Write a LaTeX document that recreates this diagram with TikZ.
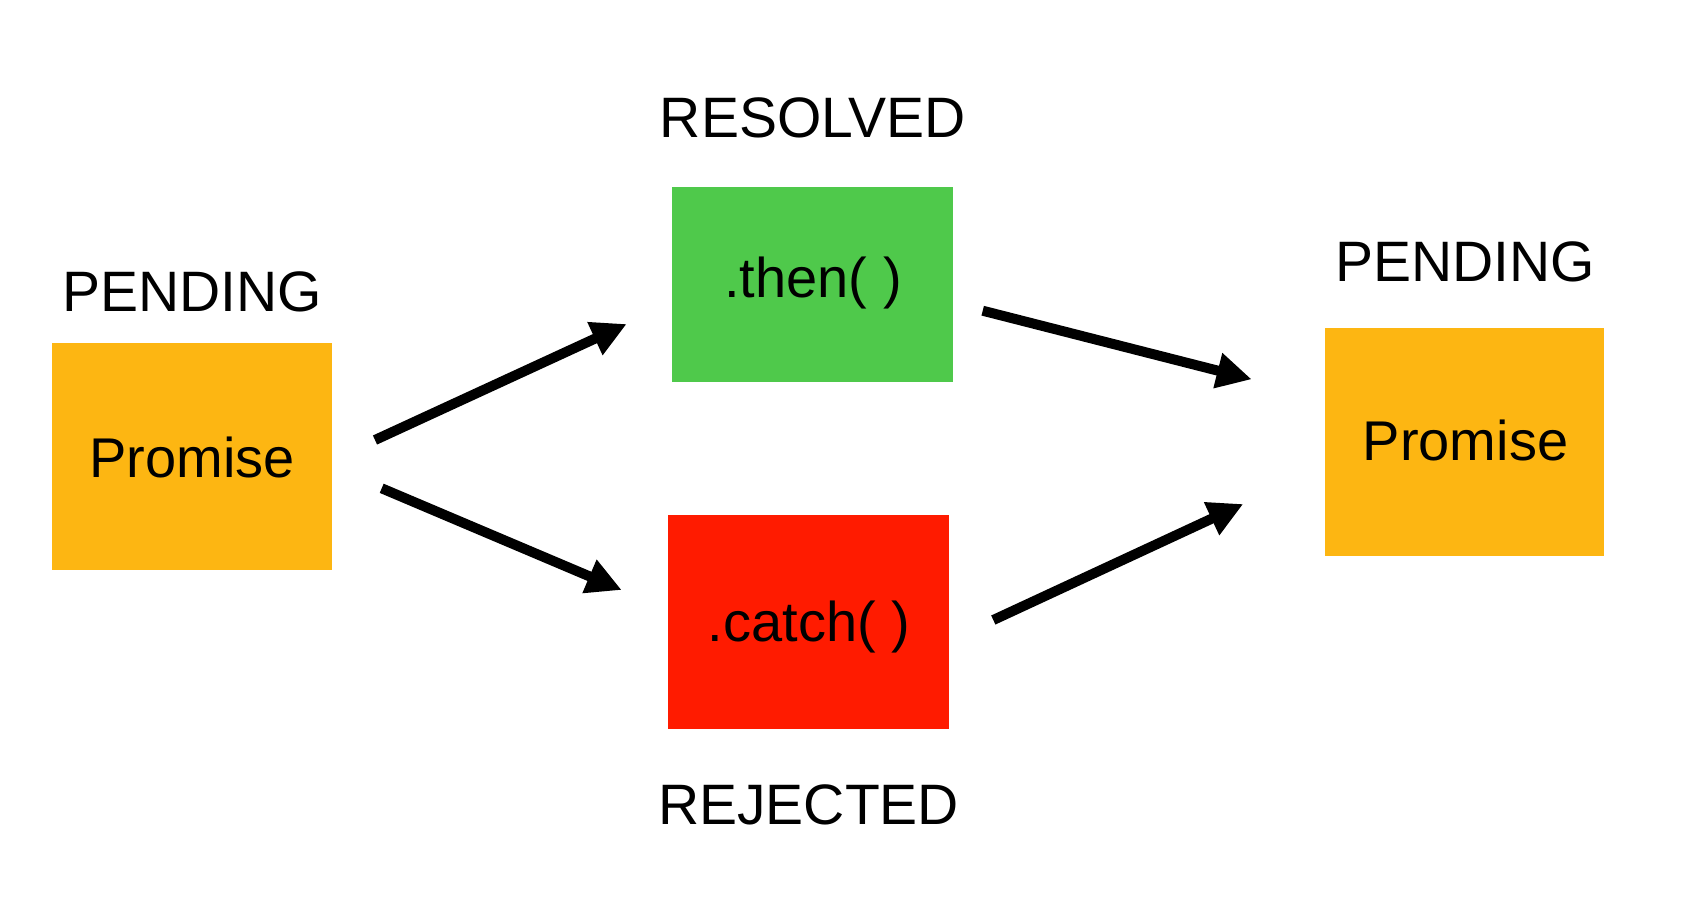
\documentclass[tikz,border=0pt]{standalone}
\usepackage{fontspec}
\setmainfont{Liberation Sans}
\usetikzlibrary{arrows.meta}
\definecolor{promiseorange}{HTML}{FDB612}
\definecolor{thengreen}{HTML}{4FC94B}
\definecolor{catchred}{HTML}{FF1B00}
\tikzset{
  statebox/.style={draw=none, inner sep=0pt, minimum width=280pt},
  lbl/.style={inner sep=0pt, anchor=base, font=\fontsize{57}{60}\selectfont},
  boxtxt/.style={inner sep=0pt, anchor=base, font=\fontsize{56}{60}\selectfont},
  flow/.style={line width=10pt, -{Triangle[length=35pt, width=34pt]}}
}
\begin{document}
\begin{tikzpicture}[x=1pt, y=-1pt]
\fill[white] (0,0) rectangle (1697,900);
\useasboundingbox (0,0) rectangle (1697,900);
% boxes
\node[statebox, fill=promiseorange, minimum height=227pt] (p1) at (191.9,456.7) {};
\node[statebox, fill=thengreen, minimum width=281pt, minimum height=195pt] (th) at (812.8,284.8) {};
\node[statebox, fill=catchred, minimum width=281pt, minimum height=214pt] (ca) at (808.7,622.2) {};
\node[statebox, fill=promiseorange, minimum width=279pt, minimum height=228pt] (p2) at (1464.7,441.7) {};
% texts
\node[boxtxt] (p1t) at (192,477.7) {Promise};
\node[boxtxt] (tht) at (813,297.7) {.then( )};
\node[boxtxt] (cat) at (809,641.7) {.catch( )};
\node[boxtxt] (p2t) at (1465.5,460.7) {Promise};
\node[lbl] (l1) at (192,311) {PENDING};
\node[lbl] (l2) at (813,137.5) {RESOLVED};
\node[lbl] (l3) at (808.7,824) {REJECTED};
\node[lbl] (l4) at (1465,281) {PENDING};
% arrow ends
\coordinate (a1s) at (375,440);
\coordinate (a1e) at (626.7,324);
\coordinate (a2s) at (381.7,488.3);
\coordinate (a2e) at (621.7,590);
\coordinate (a3s) at (982.7,310.7);
\coordinate (a3e) at (1251.7,379.3);
\coordinate (a4s) at (993.3,620);
\coordinate (a4e) at (1243.3,504);
\draw[flow] (a1s) -- (a1e);
\draw[flow] (a2s) -- (a2e);
\draw[flow] (a3s) -- (a3e);
\draw[flow] (a4s) -- (a4e);
\end{tikzpicture}
\end{document}
